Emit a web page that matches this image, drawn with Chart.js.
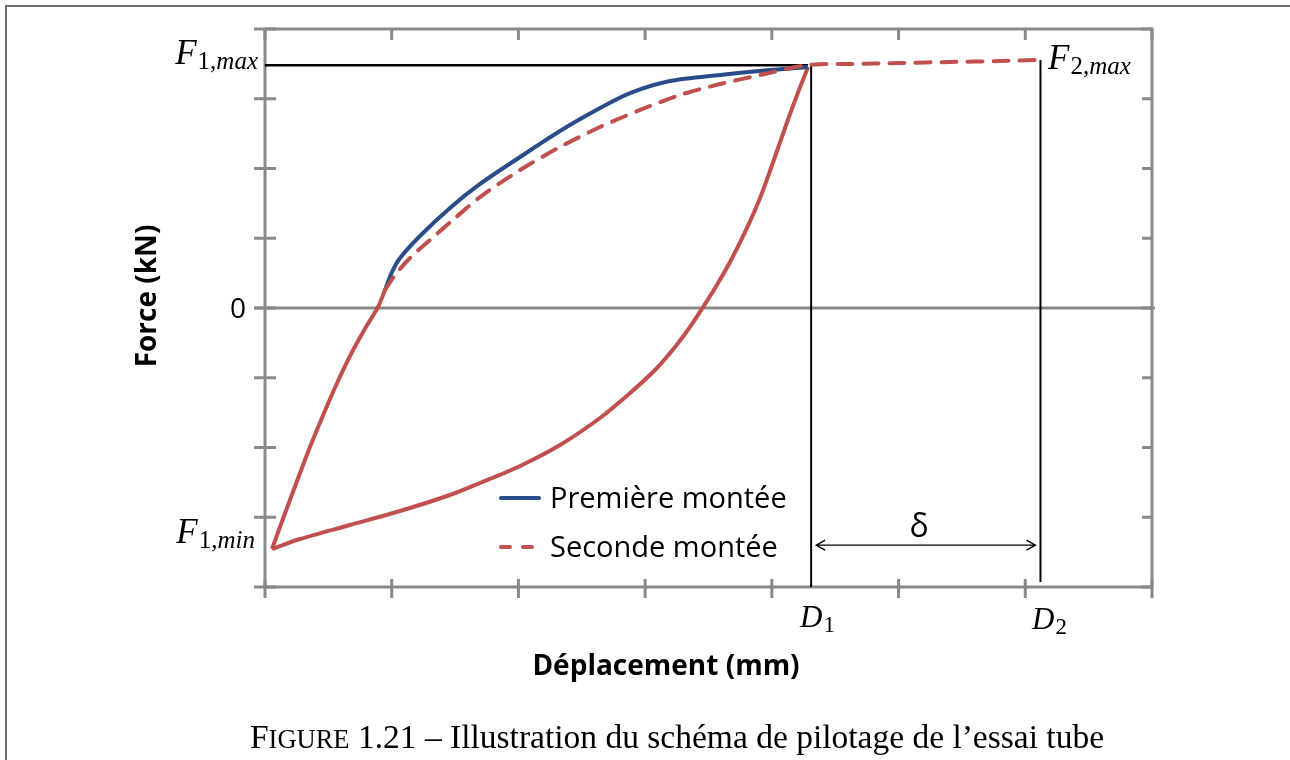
<!DOCTYPE html>
<html>
<head>
<meta charset="utf-8">
<script src="https://cdn.jsdelivr.net/npm/chart.js@4.4.1/dist/chart.umd.min.js"></script>
<style>
  body { margin: 0; background: #fff; width: 1290px; height: 760px; overflow: hidden; position: relative; }
  #cadre { position: absolute; left: 5px; top: 5px; width: 1300px; height: 800px;
           border-top: 2px solid #6b6b6b; border-left: 2px solid #6b6b6b; }
  canvas { position: absolute; left: 0; top: 0; }
</style>
</head>
<body>
<div id="cadre"></div>
<canvas id="grafica" width="1290" height="760"></canvas>
<script>
// valeurs (x et y en graduations)
const xTicks = [0, 1, 2, 3, 4, 5, 6, 7];
const yTicks = [-4, -3, -2, -1, 0, 1, 2, 3, 4];

const premiereX = [0.947, 1.002, 1.066, 1.223, 1.46, 1.697, 2.013, 2.328, 2.644, 2.881, 3.197, 3.591, 3.986, 4.286];
const premiereY = [0.258, 0.516, 0.717, 1.032, 1.434, 1.778, 2.165, 2.538, 2.867, 3.082, 3.254, 3.341, 3.412, 3.455];

const dechargeX = [4.286, 4.199, 4.104, 4.002, 3.907, 3.789, 3.67, 3.552, 3.457, 3.354, 3.236, 3.078, 2.881, 2.644, 2.328, 2.013, 1.697, 1.46, 1.066, 0.671, 0.276, 0.055];
const dechargeY = [3.455, 3.054, 2.581, 2.05, 1.577, 1.09, 0.659, 0.287, 0.014, -0.272, -0.559, -0.889, -1.219, -1.577, -1.964, -2.265, -2.509, -2.681, -2.91, -3.111, -3.312, -3.455];

const rechargeX = [0.055, 0.15, 0.253, 0.355, 0.466, 0.576, 0.687, 0.797, 0.892, 0.947];
const rechargeY = [-3.455, -2.982, -2.48, -1.993, -1.505, -1.047, -0.631, -0.272, 0.014, 0.258];

const secondeX = [0.947, 1.026, 1.144, 1.302, 1.5, 1.697, 2.013, 2.328, 2.644, 2.96, 3.275, 3.591, 3.907, 4.286, 4.617, 5.012, 5.406, 5.801, 6.109];
const secondeY = [0.258, 0.473, 0.717, 0.975, 1.29, 1.591, 1.978, 2.308, 2.595, 2.839, 3.054, 3.211, 3.341, 3.484, 3.498, 3.513, 3.527, 3.541, 3.556];

const F1MAX = 3.48;
const F2MAX = 3.556;
const D1 = 4.31;
const D2 = 6.12;
const D2_BAS = -3.93;
const DELTA_Y = -3.4;

const bleu = "rgb(42, 77, 138)";
const rouge = "rgb(192, 80, 77)";
const gris = "rgb(137, 137, 137)";

function puntos(xs, ys) {
  return xs.map((x, i) => ({ x, y: ys[i] }));
}

function etiquetaMath(ctx, x, y, base, sub, tBase, tSub, alaDerecha) {
  const fBase = "italic " + tBase + 'px "Liberation Serif"';
  const fSub = tSub + 'px "Liberation Serif"';
  const fSubI = "italic " + tSub + 'px "Liberation Serif"';
  ctx.font = fBase;
  const wBase = ctx.measureText(base).width;
  let wSub = 0;
  sub.forEach((p) => {
    ctx.font = p[1] ? fSubI : fSub;
    wSub += ctx.measureText(p[0]).width;
  });
  let cx = alaDerecha ? x - wBase - wSub - 1 : x;
  ctx.fillStyle = "#000";
  ctx.textBaseline = "alphabetic";
  ctx.textAlign = "left";
  ctx.font = fBase;
  ctx.fillText(base, cx, y);
  cx += wBase + 1;
  sub.forEach((p) => {
    ctx.font = p[1] ? fSubI : fSub;
    ctx.fillText(p[0], cx, y + 5);
    cx += ctx.measureText(p[0]).width;
  });
}

const dibujoFondo = {
  id: "dibujoFondo",
  beforeDatasetsDraw(chart) {
    const ctx = chart.ctx;
    const sx = chart.scales.x;
    const sy = chart.scales.y;
    const izq = sx.getPixelForValue(0);
    const der = sx.getPixelForValue(7);
    const arriba = sy.getPixelForValue(4);
    const abajo = sy.getPixelForValue(-4);
    ctx.save();
    ctx.strokeStyle = gris;
    ctx.lineWidth = 3;
    ctx.beginPath();
    ctx.rect(izq, arriba, der - izq, abajo - arriba);
    ctx.stroke();
    // ligne zéro
    const y0 = sy.getPixelForValue(0);
    ctx.beginPath();
    ctx.moveTo(izq - 11, y0);
    ctx.lineTo(der + 3, y0);
    ctx.stroke();
    // graduations
    ctx.beginPath();
    yTicks.forEach((t) => {
      const py = sy.getPixelForValue(t);
      ctx.moveTo(izq - 11, py);
      ctx.lineTo(izq + 11, py);
      ctx.moveTo(der - 10, py);
      ctx.lineTo(der, py);
    });
    xTicks.forEach((t) => {
      const px = sx.getPixelForValue(t);
      ctx.moveTo(px, abajo - 8);
      ctx.lineTo(px, abajo + 11);
      ctx.moveTo(px, arriba);
      ctx.lineTo(px, arriba + 11);
    });
    ctx.stroke();
    ctx.restore();
  },
  afterDatasetsDraw(chart) {
    const ctx = chart.ctx;
    const sx = chart.scales.x;
    const sy = chart.scales.y;
    ctx.save();
    // flèche delta
    const ay = sy.getPixelForValue(DELTA_Y);
    const ax1 = sx.getPixelForValue(D1) + 5;
    const ax2 = sx.getPixelForValue(D2) - 5;
    ctx.strokeStyle = "#000";
    ctx.lineWidth = 1.3;
    ctx.beginPath();
    ctx.moveTo(ax1, ay);
    ctx.lineTo(ax2, ay);
    ctx.moveTo(ax1 + 9, ay - 5);
    ctx.lineTo(ax1, ay);
    ctx.lineTo(ax1 + 9, ay + 5);
    ctx.moveTo(ax2 - 9, ay - 5);
    ctx.lineTo(ax2, ay);
    ctx.lineTo(ax2 - 9, ay + 5);
    ctx.stroke();
    ctx.fillStyle = "#000";
    ctx.font = '32px "Open Sans"';
    ctx.textAlign = "center";
    ctx.textBaseline = "alphabetic";
    ctx.fillText("δ", 919, ay - 8);

    // étiquettes
    ctx.font = '28px "Open Sans"';
    ctx.textAlign = "right";
    ctx.fillText("0", 246, sy.getPixelForValue(0) + 10);

    etiquetaMath(ctx, 258, 64, "F", [["1,", false], ["max", true]], 35, 25, true);
    etiquetaMath(ctx, 255, 543, "F", [["1,", false], ["min", true]], 35, 25, true);
    etiquetaMath(ctx, 1048, 69, "F", [["2,", false], ["max", true]], 35, 25, false);
    etiquetaMath(ctx, 800, 627, "D", [["1", false]], 31, 23, false);
    etiquetaMath(ctx, 1032, 629, "D", [["2", false]], 31, 23, false);

    // titres des axes
    ctx.font = 'bold 28px "Open Sans"';
    ctx.textAlign = "center";
    ctx.textBaseline = "middle";
    ctx.fillText("Déplacement (mm)", 666, 667);
    ctx.save();
    ctx.translate(148, 296);
    ctx.rotate(-Math.PI / 2);
    ctx.fillText("Force (kN)", 0, 0);
    ctx.restore();

    // légende
    ctx.lineWidth = 4;
    ctx.strokeStyle = bleu;
    ctx.lineCap = "round";
    ctx.beginPath();
    ctx.moveTo(501, 498);
    ctx.lineTo(539, 498);
    ctx.stroke();
    ctx.strokeStyle = rouge;
    ctx.setLineDash([9, 13]);
    ctx.beginPath();
    ctx.moveTo(501, 547);
    ctx.lineTo(539, 547);
    ctx.stroke();
    ctx.setLineDash([]);
    ctx.fillStyle = "#000";
    ctx.font = '29px "Open Sans"';
    ctx.textAlign = "left";
    ctx.textBaseline = "alphabetic";
    ctx.fillText("Première montée", 550, 508);
    ctx.fillText("Seconde montée", 550, 557);

    // légende de la figure
    const fGrand = '33.5px "Liberation Serif"';
    const fPetit = '26.5px "Liberation Serif"';
    const resto = " 1.21 – Illustration du schéma de pilotage de l’essai tube";
    ctx.font = fGrand;
    const w1 = ctx.measureText("F").width;
    const w3 = ctx.measureText(resto).width;
    ctx.font = fPetit;
    const w2 = ctx.measureText("IGURE").width;
    let cx = 677 - (w1 + w2 + w3) / 2;
    ctx.font = fGrand;
    ctx.fillText("F", cx, 748);
    cx += w1;
    ctx.font = fPetit;
    ctx.fillText("IGURE", cx, 748);
    cx += w2;
    ctx.font = fGrand;
    ctx.fillText(resto, cx, 748);
    ctx.restore();
  },
};

const cxt = document.getElementById("grafica");
const myChart = new Chart(cxt, {
  type: "scatter",
  data: {
    datasets: [
      {
        label: "Seconde montée",
        data: puntos(secondeX, secondeY),
        borderColor: rouge,
        borderWidth: 4,
        borderDash: [15, 11],
        borderCapStyle: "round",
        tension: 0.3,
      },
      {
        label: "Première montée",
        data: puntos(premiereX, premiereY),
        borderColor: bleu,
        borderWidth: 4,
        tension: 0.3,
      },
      {
        label: "décharge",
        data: puntos(dechargeX, dechargeY),
        borderColor: rouge,
        borderWidth: 4,
        tension: 0.3,
      },
      {
        label: "recharge",
        data: puntos(rechargeX, rechargeY),
        borderColor: rouge,
        borderWidth: 4,
        tension: 0.3,
      },
      {
        label: "F1max",
        data: [{ x: 0, y: F1MAX }, { x: premiereX[premiereX.length - 1], y: F1MAX }],
        borderColor: "#000",
        borderWidth: 2.5,
      },
      {
        label: "D1",
        data: [{ x: D1, y: F1MAX }, { x: D1, y: -4 }],
        borderColor: "#000",
        borderWidth: 2,
      },
      {
        label: "D2",
        data: [{ x: D2, y: F2MAX }, { x: D2, y: D2_BAS }],
        borderColor: "#000",
        borderWidth: 2,
      },
    ],
  },
  options: {
    responsive: false,
    animation: false,
    showLine: true,
    elements: { point: { radius: 0, hoverRadius: 0 } },
    layout: { padding: { left: 265, top: 29, right: 138, bottom: 173 } },
    scales: {
      x: { type: "linear", min: 0, max: 7, display: false },
      y: { type: "linear", min: -4, max: 4, display: false },
    },
    plugins: { legend: { display: false }, tooltip: { enabled: false } },
  },
  plugins: [dibujoFondo],
});
</script>
</body>
</html>
